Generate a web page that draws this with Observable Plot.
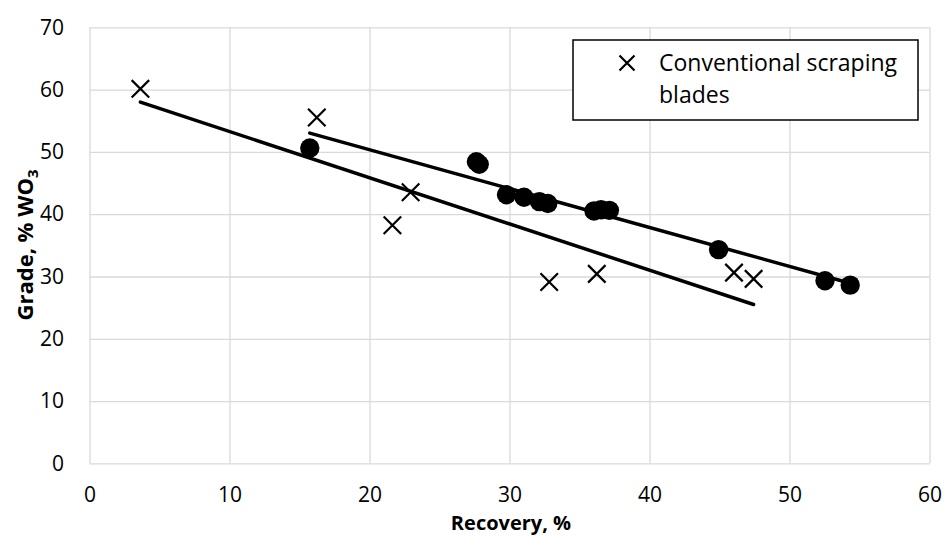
<!DOCTYPE html>
<html>
<head>
<meta charset="utf-8">
<script src="https://cdn.jsdelivr.net/npm/d3@7"></script>
<script src="https://cdn.jsdelivr.net/npm/@observablehq/plot@0.6"></script>
<style>
  html, body { margin: 0; padding: 0; background: #fff; }
  #chart { width: 944px; height: 536px; }
</style>
</head>
<body>
<div id="chart"></div>
<script>
// Conventional scraping blades (crosses)
const crossX = [3.6, 16.2, 22.9, 21.6, 32.8, 36.2, 46.0, 47.4];
const crossY = [60.2, 55.6, 43.6, 38.3, 29.2, 30.5, 30.7, 29.7];
// Second series (filled circles)
const dotX = [15.7, 27.6, 27.8, 29.75, 31.0, 32.1, 32.7, 36.0, 36.5, 37.1, 44.9, 52.5, 54.3];
const dotY = [50.7, 48.5, 48.1, 43.2, 42.8, 42.1, 41.8, 40.6, 40.8, 40.7, 34.4, 29.4, 28.7];
const xTicks = [0, 10, 20, 30, 40, 50, 60];
const yTicks = [0, 10, 20, 30, 40, 50, 60, 70];
const legendLabel = ["Conventional scraping", "blades"];
const xTitle = "Recovery, %";
const yTitle = ["Grade, % WO", "3"];

const crosses = crossX.map((x, i) => ({x, y: crossY[i]}));
const dots = dotX.map((x, i) => ({x, y: dotY[i]}));

const FONT = "'Open Sans', sans-serif";

const chart = Plot.plot({
  width: 944,
  height: 536,
  marginLeft: 89.5,
  marginRight: 14.5,
  marginTop: 27.3,
  marginBottom: 72.6,
  style: {fontFamily: FONT, fontSize: "21px", color: "#000", background: "#fff", overflow: "visible"},
  x: {domain: [0, 60], ticks: xTicks, label: null},
  y: {domain: [0, 70], ticks: yTicks, label: null},
  marks: [
    Plot.gridX(xTicks, {stroke: "#d9d9d9", strokeOpacity: 1, strokeWidth: 1.3}),
    Plot.gridY(yTicks, {stroke: "#d9d9d9", strokeOpacity: 1, strokeWidth: 1.3}),
    Plot.axisX(xTicks, {tickSize: 0, tickPadding: 23, fontSize: 21, label: null}),
    Plot.axisY(yTicks, {tickSize: 0, tickPadding: 26, fontSize: 21, label: null}),
    Plot.linearRegressionY(crosses, {x: "x", y: "y", ci: 0, stroke: "#000", strokeWidth: 3.5}),
    Plot.linearRegressionY(dots, {x: "x", y: "y", ci: 0, stroke: "#000", strokeWidth: 3.5}),
    Plot.dot(crosses, {x: "x", y: "y", symbol: "times", r: 8, stroke: "#000", strokeWidth: 2.2}),
    Plot.dot(dots, {x: "x", y: "y", r: 9.7, fill: "#000", stroke: "none"})
  ]
});

document.getElementById("chart").appendChild(chart);

const svg = d3.select(chart);

// enforce tick label size
svg.selectAll('g[aria-label="x-axis tick label"], g[aria-label="y-axis tick label"]')
  .attr("font-size", 21).style("font-size", "21px");
svg.selectAll('g[aria-label="x-axis tick label"] text, g[aria-label="y-axis tick label"] text')
  .style("font-size", "21px");

// Axis titles
svg.append("text")
  .attr("x", 511).attr("y", 530)
  .attr("text-anchor", "middle")
  .attr("font-family", FONT).attr("font-size", 20).attr("font-weight", "bold")
  .attr("fill", "#000")
  .text(xTitle);

const yt = svg.append("text")
  .attr("transform", "translate(33,245) rotate(-90)")
  .attr("text-anchor", "middle")
  .attr("font-family", FONT).attr("font-size", 22).attr("font-weight", "bold")
  .attr("fill", "#000");
yt.append("tspan").text(yTitle[0]);
yt.append("tspan").attr("font-size", 15).attr("dy", 5).text(yTitle[1]);

// Legend
const lg = svg.append("g").attr("text-anchor", "start");
lg.append("rect")
  .attr("x", 573).attr("y", 40).attr("width", 345).attr("height", 80)
  .attr("fill", "#fff").attr("stroke", "#000").attr("stroke-width", 1.5);
const cx = 627, cy = 63, h = 7.5;
lg.append("path")
  .attr("d", `M${cx - h},${cy - h}L${cx + h},${cy + h}M${cx - h},${cy + h}L${cx + h},${cy - h}`)
  .attr("stroke", "#000").attr("stroke-width", 2.2).attr("fill", "none");
lg.append("text")
  .attr("x", 659).attr("y", 71)
  .attr("text-anchor", "start")
  .attr("font-family", FONT).attr("font-size", 23).attr("fill", "#000")
  .text(legendLabel[0]);
lg.append("text")
  .attr("x", 659).attr("y", 103)
  .attr("text-anchor", "start")
  .attr("font-family", FONT).attr("font-size", 23).attr("fill", "#000")
  .text(legendLabel[1]);
</script>
</body>
</html>
